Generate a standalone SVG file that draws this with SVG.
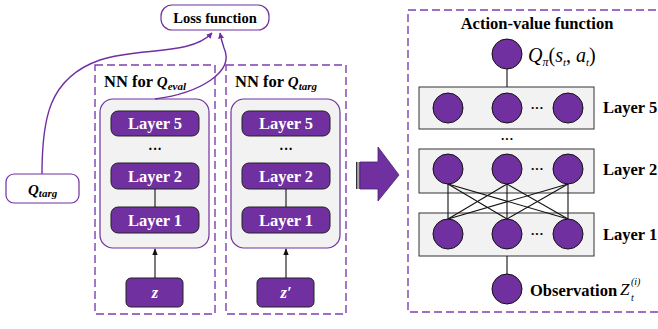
<svg xmlns="http://www.w3.org/2000/svg" width="658" height="329" viewBox="0 0 658 329" font-family="'Times New Roman', 'Liberation Serif', 'DejaVu Serif', serif">
<style>
text{font-family:"Times New Roman","Liberation Serif","DejaVu Serif",serif;}
.b{font-weight:bold;}
.i{font-style:italic;}
.dash{fill:none;stroke:#7d3fb0;stroke-width:1.4;stroke-dasharray:8,4;}
.inner{fill:#f2f2f2;stroke:#7030a0;stroke-width:1.2;}
.lay{fill:#7030a0;stroke:#222;stroke-width:1;}
.lt{fill:#fff;font-weight:bold;font-size:16.5px;text-anchor:middle;}
.gbox{fill:#f2f2f2;stroke:#333;stroke-width:1;}
.nd{fill:#7030a0;stroke:#111;stroke-width:1;}
.ln{stroke:#111;stroke-width:1.1;fill:none;}
.cv{stroke:#7030a0;stroke-width:1.4;fill:none;}
.lbl{font-weight:bold;font-size:16.5px;}
</style>
<defs>
<marker id="pa" viewBox="0 0 10 10" refX="9" refY="5" markerWidth="6" markerHeight="6" orient="auto" markerUnits="userSpaceOnUse">
<path d="M0,0 L10,5 L0,10 z" fill="#7030a0"/>
</marker>
<marker id="ba" viewBox="0 0 10 10" refX="9" refY="5" markerWidth="7" markerHeight="7" orient="auto" markerUnits="userSpaceOnUse">
<path d="M0,1 L10,5 L0,9 z" fill="#111"/>
</marker>
</defs>

<g id="loss">
<rect x="161" y="5" width="108" height="25" rx="11" fill="#fff" stroke="#7030a0" stroke-width="1.2"/>
<text x="215" y="22.5" class="b" font-size="14.5" text-anchor="middle">Loss function</text>
</g>

<g id="qtarg">
<rect x="6" y="174" width="73" height="29" rx="8" fill="#fff" stroke="#7030a0" stroke-width="1.2"/>
<text x="28" y="195" class="b i" font-size="15">Q<tspan font-size="11" dy="2">targ</tspan></text>
</g>

<g id="nn-eval">
<rect x="95" y="65" width="120" height="249" class="dash"/>
<text x="104" y="87" class="b" font-size="16.5">NN for <tspan class="i" font-size="15">Q</tspan><tspan class="i" font-size="11" dy="3">eval</tspan></text>
<rect x="100" y="99" width="109" height="149" rx="13" class="inner"/>
<rect x="111" y="111" width="88" height="25" rx="7" class="lay"/>
<text x="155" y="129" class="lt">Layer 5</text>
<text x="155" y="154" font-size="14" text-anchor="middle" class="b">···</text>
<rect x="111" y="163" width="88" height="26" rx="7" class="lay"/>
<text x="155" y="182" class="lt">Layer 2</text>
<rect x="111" y="207" width="88" height="26" rx="7" class="lay"/>
<text x="155" y="226" class="lt">Layer 1</text>
<rect x="126" y="278" width="57" height="29" rx="5" class="lay"/>
<text x="155" y="298" class="lt i">z</text>
</g>

<g id="nn-targ">
<rect x="226" y="65" width="120" height="249" class="dash"/>
<text x="235" y="87" class="b" font-size="16.5">NN for <tspan class="i" font-size="15">Q</tspan><tspan class="i" font-size="11" dy="3">targ</tspan></text>
<rect x="231" y="99" width="109" height="149" rx="13" class="inner"/>
<rect x="242" y="111" width="88" height="25" rx="7" class="lay"/>
<text x="286" y="129" class="lt">Layer 5</text>
<text x="286" y="154" font-size="14" text-anchor="middle" class="b">···</text>
<rect x="242" y="163" width="88" height="26" rx="7" class="lay"/>
<text x="286" y="182" class="lt">Layer 2</text>
<rect x="242" y="207" width="88" height="26" rx="7" class="lay"/>
<text x="286" y="226" class="lt">Layer 1</text>
<rect x="257" y="278" width="57" height="29" rx="5" class="lay"/>
<text x="286" y="298" class="lt i">z′</text>
</g>

<g id="big-arrow">
<path d="M360,162 L378,162 L378,147 L399,175 L378,201 L378,189 L360,189 z" fill="#7030a0" stroke="#4a1f6e" stroke-width="0.8"/>
<rect x="356" y="162" width="1.5" height="27" fill="#333"/>
<rect x="358.5" y="162" width="1.5" height="27" fill="#555"/>
</g>

<g id="action-value">
<rect x="408" y="10" width="262" height="302" class="dash"/>
<text x="537" y="29" class="b" font-size="16.5" text-anchor="middle">Action-value function</text>
<rect x="419" y="87" width="175" height="42" class="gbox"/>
<rect x="419" y="149" width="175" height="44" class="gbox"/>
<rect x="419" y="213" width="175" height="43" class="gbox"/>
</g>

<g id="connectors">
<path class="cv" d="M42,174 C42,120 48,78 100,60 C140,47 190,56 212,33" marker-end="url(#pa)"/>
<path class="cv" d="M155,99 C200,93 235,72 224,48 C222,42 221,38 220,33" marker-end="url(#pa)"/>
<line class="ln" x1="155" y1="189" x2="155" y2="207"/>
<line class="ln" x1="286" y1="189" x2="286" y2="207"/>
<line class="ln" x1="155" y1="278" x2="155" y2="249" marker-end="url(#ba)"/>
<line class="ln" x1="286" y1="278" x2="286" y2="249" marker-end="url(#ba)"/>
<line class="ln" x1="507" y1="69" x2="507" y2="87"/>
<line class="ln" x1="507" y1="256" x2="507" y2="274"/>
<g class="ln">
<line x1="448" y1="184" x2="448" y2="219"/>
<line x1="448" y1="184" x2="507" y2="219"/>
<line x1="448" y1="184" x2="568" y2="219"/>
<line x1="507" y1="184" x2="448" y2="219"/>
<line x1="507" y1="184" x2="507" y2="219"/>
<line x1="507" y1="184" x2="568" y2="219"/>
<line x1="568" y1="184" x2="448" y2="219"/>
<line x1="568" y1="184" x2="507" y2="219"/>
<line x1="568" y1="184" x2="568" y2="219"/>
</g>
</g>

<g id="output-node">
<circle cx="507" cy="54" r="15" class="nd"/>
<text x="528" y="62" class="i" font-size="20">Q<tspan font-size="12" dy="4">π</tspan><tspan dy="-4" font-style="normal">(</tspan>s<tspan font-size="11" dy="4">t</tspan><tspan dy="-4" font-style="normal">, </tspan>a<tspan font-size="11" dy="4">t</tspan><tspan dy="-4" font-style="normal">)</tspan></text>
</g>

<g id="layer5">
<circle cx="448" cy="108" r="15" class="nd"/>
<circle cx="507" cy="108" r="15" class="nd"/>
<circle cx="568" cy="108" r="15" class="nd"/>
<text x="537" y="112" font-size="13" class="b" text-anchor="middle">···</text>
<text x="603" y="113" class="lbl">Layer 5</text>
</g>
<text x="507" y="143" font-size="13" class="b" text-anchor="middle">···</text>

<g id="layer2">
<circle cx="448" cy="169" r="15" class="nd"/>
<circle cx="507" cy="169" r="15" class="nd"/>
<circle cx="568" cy="169" r="15" class="nd"/>
<text x="537" y="173" font-size="13" class="b" text-anchor="middle">···</text>
<text x="603" y="175" class="lbl">Layer 2</text>
</g>

<g id="layer1">
<circle cx="448" cy="234" r="15" class="nd"/>
<circle cx="507" cy="234" r="15" class="nd"/>
<circle cx="568" cy="234" r="15" class="nd"/>
<text x="537" y="238" font-size="13" class="b" text-anchor="middle">···</text>
<text x="603" y="240" class="lbl">Layer 1</text>
</g>

<g id="observation">
<circle cx="507" cy="289" r="15" class="nd"/>
<text x="530" y="296" class="lbl">Observation</text>
<text x="620" y="295" class="i" font-size="17">Z</text>
<text x="631" y="301" class="i" font-size="10">t</text>
<text x="631" y="285" class="i" font-size="10">(i)</text>
</g>
</svg>
